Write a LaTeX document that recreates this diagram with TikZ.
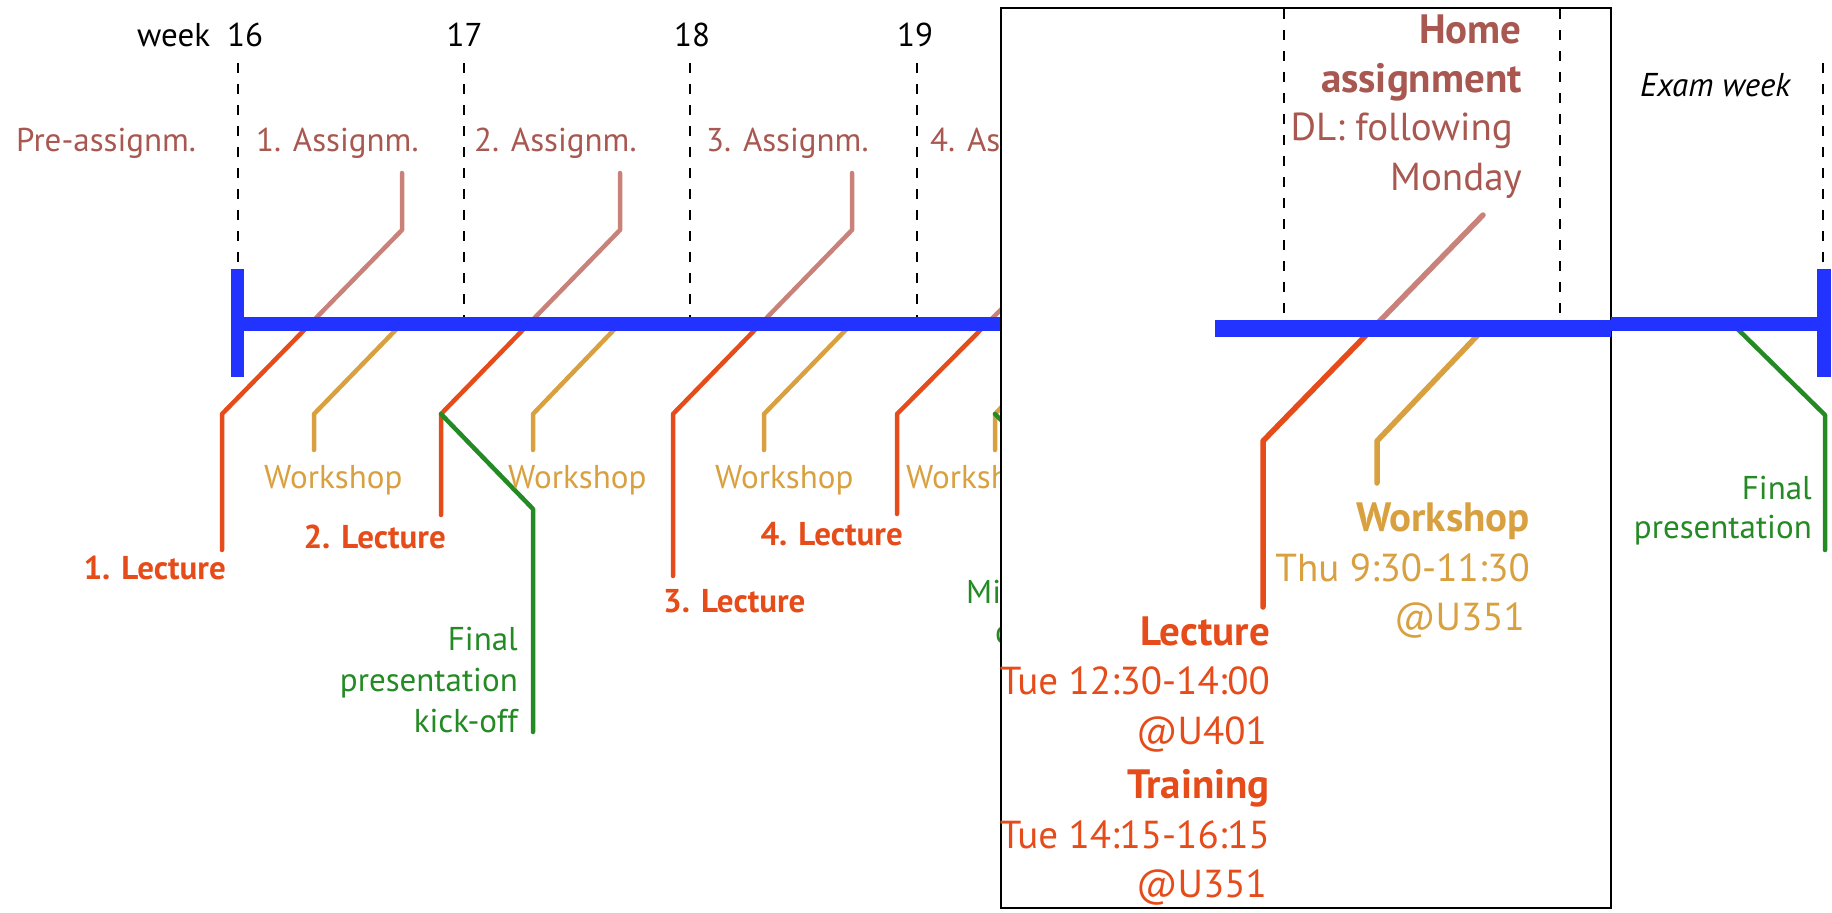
\documentclass[tikz,border=0pt]{standalone}
\usepackage{fontspec}
\setmainfont{PT Sans}
\definecolor{tlblue}{RGB}{34,51,255}
\definecolor{rosytxt}{RGB}{168,88,80}
\definecolor{rosyline}{RGB}{201,130,122}
\definecolor{lecred}{RGB}{230,76,26}
\definecolor{gold}{RGB}{217,160,64}
\definecolor{grn}{RGB}{36,138,36}
\begin{document}
\begin{tikzpicture}[x=1pt,y=-1pt,
  t/.style={inner sep=0pt, font=\fontsize{33}{40}\selectfont},
  tb/.style={inner sep=0pt, font=\fontsize{33}{40}\selectfont\bfseries},
  ti/.style={inner sep=0pt, font=\fontsize{33}{40}\selectfont\itshape},
  T/.style={inner sep=0pt, font=\fontsize{39}{50}\selectfont},
  TB/.style={inner sep=0pt, font=\fontsize{41}{50}\selectfont\bfseries},
  re/.style={anchor=base east}, le/.style={anchor=base west}, ce/.style={anchor=base},
  dsh/.style={line width=1.5pt, dash pattern=on 10pt off 11pt},
  cl/.style={line width=4.5pt, line cap=round, line join=round},
  Cl/.style={line width=5.5pt, line cap=round, line join=round},
  bar/.style={tlblue, line width=14pt},
]
\useasboundingbox (0,0) rectangle (1832,913);
% ---------- dashed week lines ----------
\foreach \x in {238,464,690,917,1823} \draw[dsh] (\x,63) -- (\x,317);
% ---------- week labels ----------
\node[t,le] (wk) at (137,46) {week};
\node[t,ce] (w16) at (245,46) {16};
\node[t,ce] (w17) at (464.5,46) {17};
\node[t,ce] (w18) at (692,46) {18};
\node[t,ce] (w19) at (915,46) {19};
% ---------- assignment labels ----------
\node[t,le,rosytxt] (pa) at (16,151) {Pre-assignm.};
\node[t,le,rosytxt] (a1) at (256,151) {1. Assignm.};
\node[t,le,rosytxt] (a2) at (474,151) {2. Assignm.};
\node[t,le,rosytxt] (a3) at (706,151) {3. Assignm.};
\node[t,le,rosytxt] (a4) at (930,151) {4. Assignm.};
% ---------- coordinates per week ----------
% week 16
\coordinate (r16t) at (402,173); \coordinate (r16b) at (402,230);
\coordinate (m16) at (310.6,323.5); \coordinate (l16b) at (222,414); \coordinate (l16e) at (222,550);
\coordinate (g16t) at (402,323.5); \coordinate (g16b) at (314,414); \coordinate (g16e) at (314,450);
% week 17
\coordinate (r17t) at (620,173); \coordinate (r17b) at (620,230);
\coordinate (m17) at (529.1,323.5); \coordinate (l17b) at (441,414); \coordinate (l17e) at (441,515);
\coordinate (g17t) at (620,323.5); \coordinate (g17b) at (533,414); \coordinate (g17e) at (533,450);
\coordinate (f17b) at (533,509); \coordinate (f17e) at (533,732);
% week 18
\coordinate (r18t) at (852,173); \coordinate (r18b) at (852,230);
\coordinate (m18) at (761.1,323.5); \coordinate (l18b) at (673,414); \coordinate (l18e) at (673,576);
\coordinate (g18t) at (852,323.5); \coordinate (g18b) at (764,414); \coordinate (g18e) at (764,450);
% week 19
\coordinate (r19t) at (1080,173); \coordinate (r19b) at (1080,230);
\coordinate (m19) at (987,323.5); \coordinate (l19b) at (897,414); \coordinate (l19e) at (897,514);
\coordinate (g19t) at (1080,323.5); \coordinate (g19b) at (995,414); \coordinate (g19e) at (995,450);
\coordinate (f19b) at (1090,509); \coordinate (f19e) at (1090,700);
% ---------- connectors ----------
\foreach \w in {16,17,18,19}{
  \draw[cl,rosyline] (r\w t) -- (r\w b) -- (m\w);
  \draw[cl,lecred] (m\w) -- (l\w b) -- (l\w e);
  \draw[cl,gold] (g\w t) -- (g\w b) -- (g\w e);
}
\draw[cl,grn] (l17b) -- (f17b) -- (f17e);
\draw[cl,grn] (g19b) -- (f19b) -- (f19e);
% ---------- main timeline ----------
\coordinate (tl0) at (237.5,323.5); \coordinate (tl1) at (1001,323.5);
\draw[bar] (tl0) -- (tl1);
\coordinate (tk0a) at (237.5,269); \coordinate (tk0b) at (237.5,377);
\draw[tlblue, line width=13pt] (tk0a) -- (tk0b);
% ---------- labels below ----------
\node[t,le,gold] (ws16) at (264,488) {Workshop};
\node[t,le,gold] (ws17) at (508,488) {Workshop};
\node[t,le,gold] (ws18) at (715,488) {Workshop};
\node[t,le,gold] (ws19) at (906,488) {Workshop};
\node[tb,re,lecred] (lc1) at (226,579) {1. Lecture};
\node[tb,re,lecred] (lc2) at (446,548) {2. Lecture};
\node[tb,le,lecred] (lc3) at (663,612) {3. Lecture};
\node[tb,re,lecred] (lc4) at (903,545) {4. Lecture};
\node[t,re,grn] (fk1) at (518,650) {Final};
\node[t,re,grn] (fk2) at (518,691) {presentation};
\node[t,re,grn] (fk3) at (518,732) {kick-off};
\node[t,le,grn] (mi1) at (966,603) {Mi};
\node[t,le,grn] (mi2) at (995,643) {c};
% ---------- inset box ----------
\draw[line width=2pt, fill=white] (1001,8) rectangle (1611,908);
\draw[dsh] (1284,9) -- (1284,320);
\draw[dsh] (1560,9) -- (1560,320);
\coordinate (Rt) at (1483,215); \coordinate (Rm) at (1372.5,328.5);
\coordinate (Lb) at (1263,441); \coordinate (Le) at (1263,607);
\coordinate (Gt) at (1484,328.5); \coordinate (Gb) at (1377,441); \coordinate (Ge) at (1377,483);
\draw[Cl,rosyline] (Rt) -- (Rm);
\draw[Cl,lecred] (Rm) -- (Lb) -- (Le);
\draw[Cl,gold] (Gt) -- (Gb) -- (Ge);
\coordinate (ib0) at (1215,328.5); \coordinate (ib1) at (1611,328.5);
\draw[tlblue, line width=17pt] (ib0) -- (ib1);
\node[TB,re,rosytxt] (h1) at (1522,43) {Home};
\node[TB,re,rosytxt] (h2) at (1522,92) {assignment};
\node[T,re,rosytxt] (h3) at (1513,140) {DL: following};
\node[T,re,rosytxt] (h4) at (1522,190) {Monday};
\node[TB,re,gold] (k1) at (1530,531) {Workshop};
\node[T,re,gold] (k2) at (1530,581) {Thu 9:30-11:30};
\node[T,re,gold] (k3) at (1525,630) {@U351};
\node[TB,re,lecred] (q1) at (1270,645) {Lecture};
\node[T,re,lecred] (q2) at (1270,694) {Tue 12:30-14:00};
\node[T,re,lecred] (q3) at (1267,744) {@U401};
\node[TB,re,lecred] (q4) at (1270,798) {Training};
\node[T,re,lecred] (q5) at (1270,848) {Tue 14:15-16:15};
\node[T,re,lecred] (q6) at (1267,897) {@U351};
% ---------- exam week ----------
\coordinate (tl2) at (1611,323.5); \coordinate (tl3) at (1824,323.5);
\coordinate (fp0) at (1732,323.5); \coordinate (fp1) at (1825,415); \coordinate (fp2) at (1825,550);
\draw[cl,grn] (fp0) -- (fp1) -- (fp2);
\draw[bar] (tl2) -- (tl3);
\coordinate (tk1a) at (1824,269); \coordinate (tk1b) at (1824,377);
\draw[tlblue, line width=14pt] (tk1a) -- (tk1b);
\node[ti,le] (ex) at (1640,96) {Exam week};
\node[t,re,grn] (fp3) at (1812,499) {Final};
\node[t,re,grn] (fp4) at (1812,538) {presentation};
\end{tikzpicture}
\end{document}
